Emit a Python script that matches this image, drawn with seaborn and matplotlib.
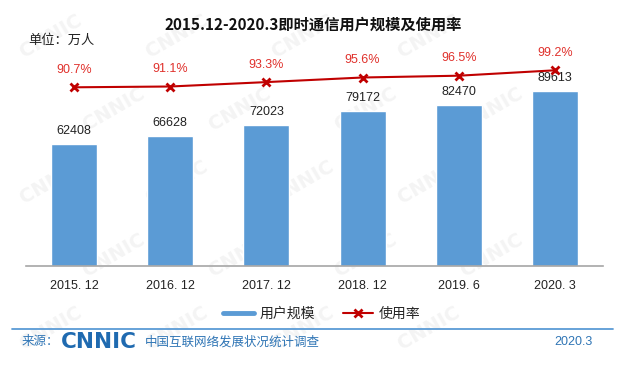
import numpy as np
import pandas as pd
import matplotlib
matplotlib.use('Agg')
import matplotlib.pyplot as plt
from matplotlib.lines import Line2D
import seaborn as sns

# data
periods = ['2015. 12', '2016. 12', '2017. 12', '2018. 12', '2019. 6', '2020. 3']
users = [62408, 66628, 72023, 79172, 82470, 89613]   # 万人
rate = [90.7, 91.1, 93.3, 95.6, 96.5, 99.2]           # %

title = '2015.12-2020.3即时通信用户规模及使用率'
unit_text = '单位：万人'
bar_name = '用户规模'
line_name = '使用率'
source_label = '来源：'
source_text = '中国互联网络发展状况统计调查'
date_text = '2020.3'

blue = '#5B9BD5'
red = '#C00000'
red_txt = '#E0312C'
foot_blue = '#2F75B5'

sns.set_style('white')
plt.rcParams['font.family'] = ['Noto Sans CJK SC', 'DejaVu Sans']
cjk = ['Noto Sans CJK SC', 'DejaVu Sans']
num = ['Liberation Sans', 'DejaVu Sans']

df = pd.DataFrame({'period': periods, 'users': users, 'rate': rate})

fig = plt.figure(figsize=(6.3, 3.65), dpi=100)

# faint watermark, kept behind everything
for r, wy in enumerate(np.arange(0.1, 0.95, 0.2)):
    off = 0.1 if r % 2 else 0.0
    for wx in np.arange(0.08, 0.85, 0.2):
        fig.text(wx + off, wy, 'CNNIC', fontsize=14, fontweight='bold', color='#F4F4F4',
                 rotation=30, ha='center', va='center', family='DejaVu Sans', zorder=-5)

ax = fig.add_axes([26 / 630, (365 - 266) / 365, 577 / 630, 206 / 365])
ax.patch.set_alpha(0)
sns.barplot(data=df, x='period', y='users', color=blue, width=0.48, saturation=1, ax=ax, zorder=2)
ax.set_ylim(0, 105472)
ax.set_xlim(-0.5, len(periods) - 0.5)
ax.bar_label(ax.containers[0], labels=[str(v) for v in users], padding=5,
             fontsize=9, color='#222222', family=num)

ax.set_xlabel('')
ax.set_ylabel('')
ax.set_yticks([])
for s in ['top', 'left', 'right']:
    ax.spines[s].set_visible(False)
ax.spines['bottom'].set_color('#A6A6A6')
ax.spines['bottom'].set_linewidth(1.2)
ax.set_xticks(np.arange(-0.5, len(periods)), minor=True)
ax.tick_params(axis='x', which='major', length=0, pad=10, labelsize=9, labelcolor='#222222')
ax.tick_params(axis='x', which='minor', length=4, width=1.2, color='#A6A6A6', direction='in')
for lab in ax.get_xticklabels():
    lab.set_family(num)

ax2 = ax.twinx()
sns.lineplot(x=np.arange(len(periods)), y=rate, color=red, linewidth=1.5, marker='x',
             markersize=6, markeredgewidth=2, markeredgecolor=red, ax=ax2, zorder=3)
ax2.set_ylim(1.35, 104.35)
ax2.set_yticks([])
ax2.set_ylabel('')
for s in ['top', 'left', 'right', 'bottom']:
    ax2.spines[s].set_visible(False)
for i, v in enumerate(rate):
    ax2.annotate(f'{v:.1f}%', (i, v), xytext=(0, 12.5), textcoords='offset points',
                 ha='center', va='center', fontsize=9, color=red_txt, family=num)

fig.text(0.497, (365 - 25) / 365, title, ha='center', va='center', fontsize=11,
         fontweight='bold', color='#111111', family=cjk)
fig.text(28 / 630, (365 - 40) / 365, unit_text, ha='left', va='center', fontsize=9.5,
         color='#222222', family=cjk)

handles = [Line2D([], [], color=blue, linewidth=3.5),
           Line2D([], [], color=red, linewidth=1.5, marker='x', markersize=6,
                  markeredgewidth=2)]
fig.legend(handles, [bar_name, line_name], loc='center', bbox_to_anchor=(0.511, (365 - 314) / 365),
           ncol=2, frameon=False, prop={'family': cjk, 'size': 10}, handlelength=2.2,
           handletextpad=0.4, columnspacing=2.0)

# footer
fig.add_artist(Line2D([12 / 630, 613 / 630], [(365 - 329) / 365] * 2, color=blue, linewidth=1.3))
fy = (365 - 342) / 365
fig.text(22 / 630, fy, source_label, ha='left', va='center', fontsize=9, color=foot_blue, family=cjk)
fig.text(61 / 630, fy, 'CNNIC', ha='left', va='center', fontsize=15.5, fontweight='heavy',
         color='#1F6AB0', family='DejaVu Sans')
fig.text(145 / 630, fy, source_text, ha='left', va='center', fontsize=9, color=foot_blue, family=cjk)
fig.text(593 / 630, fy, date_text, ha='right', va='center', fontsize=9, color=foot_blue, family=num)

fig.savefig('out.png', dpi=100)
